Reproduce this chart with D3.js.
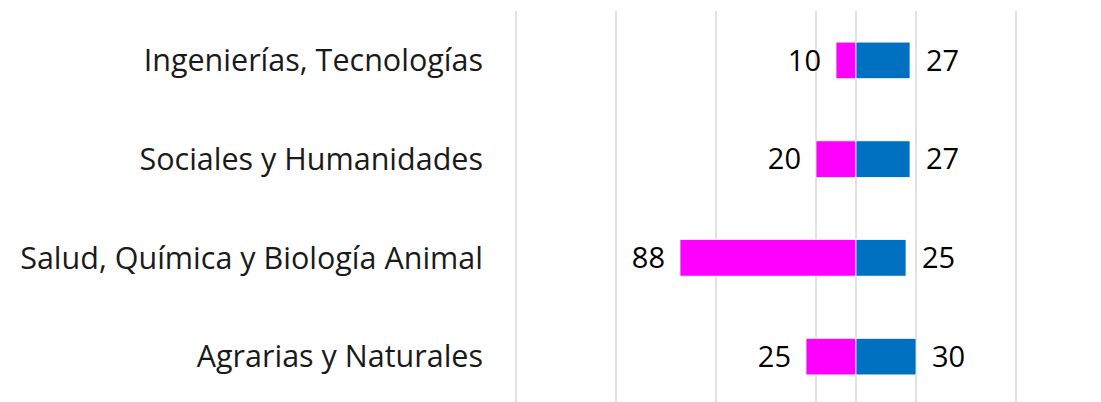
<!DOCTYPE html>
<html>
<head>
<meta charset="utf-8">
<script src="https://cdn.jsdelivr.net/npm/d3@7"></script>
<style>
  body { margin: 0; background: #fff; }
  text { font-family: "Open Sans", "Noto Sans", sans-serif; }
</style>
</head>
<body>
<svg id="chart" width="1101" height="402"></svg>
<script>
var categories = ['Ingenierías, Tecnologías', 'Sociales y Humanidades', 'Salud, Química y Biología Animal', 'Agrarias y Naturales'];
var pinkValues = [10, 20, 88, 25];
var blueValues = [27, 27, 25, 30];
var gridTicks = [-170, -120, -70, -20, 30, 80];

var svg = d3.select('#chart'),
    margin = {top: 11, right: 85, bottom: -4, left: 516},
    width = +svg.attr('width') - margin.left - margin.right,
    height = +svg.attr('height') - margin.top - margin.bottom,
    g = svg.append('g')
          .attr('transform', `translate(${margin.left}, ${margin.top})`);

var x = d3.scaleLinear().domain([-170, 80]).range([0, width]);
var y = d3.scaleBand().domain(categories).range([0, height]).paddingInner(0.63).paddingOuter(0.315);

// gridlines
g.append('g')
  .selectAll('line')
  .data(gridTicks)
  .enter().append('line')
    .attr('x1', d => x(d))
    .attr('x2', d => x(d))
    .attr('y1', 0)
    .attr('y2', height)
    .attr('stroke', '#d9d9d9')
    .attr('stroke-width', 1.5);

// zero line
g.append('line')
  .attr('x1', x(0)).attr('x2', x(0))
  .attr('y1', 0).attr('y2', height)
  .attr('stroke', '#d9d9d9')
  .attr('stroke-width', 1.5);

var data = categories.map((c, i) => ({cat: c, pink: pinkValues[i], blue: blueValues[i]}));

// category labels
svg.append('g')
  .selectAll('text')
  .data(data)
  .enter().append('text')
    .attr('x', 483)
    .attr('y', d => margin.top + y(d.cat) + y.bandwidth() / 2)
    .attr('dy', '0.35em')
    .attr('text-anchor', 'end')
    .attr('font-size', 30.5)
    .attr('fill', '#1a1a1a')
    .text(d => d.cat);

// pink bars (to the left)
g.append('g')
  .selectAll('rect')
  .data(data)
  .enter().append('rect')
    .attr('x', d => x(-d.pink))
    .attr('y', d => y(d.cat))
    .attr('width', d => x(0) - x(-d.pink))
    .attr('height', y.bandwidth())
    .attr('fill', '#ff00ff')
    .attr('stroke', '#fff')
    .attr('stroke-width', 0.75);

// blue bars (to the right)
g.append('g')
  .selectAll('rect')
  .data(data)
  .enter().append('rect')
    .attr('x', x(0))
    .attr('y', d => y(d.cat))
    .attr('width', d => x(d.blue) - x(0))
    .attr('height', y.bandwidth())
    .attr('fill', '#0070c0')
    .attr('stroke', '#fff')
    .attr('stroke-width', 0.75);

// value labels
g.append('g')
  .selectAll('text')
  .data(data)
  .enter().append('text')
    .attr('x', d => x(-d.pink) - 15)
    .attr('y', d => y(d.cat) + y.bandwidth() / 2)
    .attr('dy', '0.35em')
    .attr('text-anchor', 'end')
    .attr('font-size', 29)
    .attr('fill', '#000')
    .text(d => d.pink);

g.append('g')
  .selectAll('text')
  .data(data)
  .enter().append('text')
    .attr('x', d => x(d.blue) + 16)
    .attr('y', d => y(d.cat) + y.bandwidth() / 2)
    .attr('dy', '0.35em')
    .attr('text-anchor', 'start')
    .attr('font-size', 29)
    .attr('fill', '#000')
    .text(d => d.blue);
</script>
</body>
</html>
